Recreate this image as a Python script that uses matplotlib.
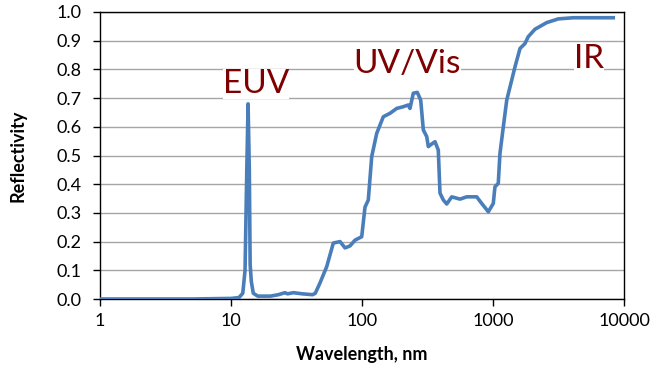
import matplotlib
matplotlib.use("Agg")
import matplotlib.pyplot as plt
from matplotlib.ticker import FixedLocator, NullLocator

plt.rcParams['font.family'] = ['Lato', 'DejaVu Sans']

wavelength = [1, 5, 10, 11.5, 12.3, 12.8, 13.2, 13.5, 13.8, 14.0, 14.3, 14.8, 16, 20, 23,
              25.8, 27, 30, 35, 42, 44, 47.8, 53.8, 60.4, 68.0, 74.2, 81.0, 88.4, 99.5,
              105.4, 111.7, 118.6, 129.5, 145.4, 163.6, 184.0, 206.6, 225.5, 232.4, 246.4,
              264.3, 280.6, 293.9, 311.9, 320.8, 340.4, 360.8, 382.2, 393.9, 417.7, 443.4,
              484.2, 559.9, 629.8, 751, 820, 921, 1005, 1035, 1097, 1130, 1199, 1273, 1390,
              1472, 1608, 1754, 1858, 2092, 2569, 3150, 4100, 8280]
reflectivity = [0.0, 0.0, 0.002, 0.005, 0.02, 0.1, 0.45, 0.68, 0.45, 0.12, 0.06, 0.02, 0.01,
                0.01, 0.015, 0.022, 0.018, 0.022, 0.018, 0.015, 0.02, 0.056, 0.113, 0.195,
                0.2, 0.178, 0.185, 0.205, 0.217, 0.32, 0.345, 0.496, 0.577, 0.635, 0.647,
                0.664, 0.67, 0.676, 0.664, 0.717, 0.72, 0.693, 0.589, 0.566, 0.531, 0.54,
                0.548, 0.519, 0.369, 0.345, 0.331, 0.356, 0.348, 0.356, 0.356, 0.333, 0.304,
                0.333, 0.391, 0.403, 0.507, 0.6, 0.693, 0.763, 0.809, 0.873, 0.89, 0.914,
                0.94, 0.963, 0.976, 0.98, 0.98]

x_ticks = [1, 10, 100, 1000, 10000]
x_tick_labels = ['1', '10', '100', '1000', '10000']
y_ticks = [0.0, 0.1, 0.2, 0.3, 0.4, 0.5, 0.6, 0.7, 0.8, 0.9, 1.0]

region_labels = ['EUV', 'UV/Vis', 'IR']
region_x = [15.5, 222, 5410]
region_y = [0.718, 0.787, 0.805]

fig = plt.figure(figsize=(6.58, 3.85), dpi=100)
ax = fig.add_axes([100/658, 86/385, 524/658, 287/385])

ax.plot(wavelength, reflectivity, color='#4a7ebb', lw=2.6, solid_joinstyle='round', zorder=3)

ax.set_xscale('log')
ax.set_xlim(1, 10000)
ax.set_ylim(0, 1.0)
ax.xaxis.set_major_locator(FixedLocator(x_ticks))
ax.xaxis.set_minor_locator(NullLocator())
ax.set_xticks(x_ticks)
ax.set_xticklabels(x_tick_labels)
ax.set_yticks(y_ticks)
ax.set_yticklabels([f'{v:.1f}' for v in y_ticks])

ax.yaxis.grid(True, color='#a6a6a6', lw=1.0)
ax.set_axisbelow(True)
for s in ax.spines.values():
    s.set_color('#000000')
    s.set_linewidth(1.0)

ax.tick_params(axis='both', direction='out', length=5, width=1, labelsize=13, colors='#000000')
ax.tick_params(axis='y', pad=8)
ax.tick_params(axis='x', pad=5)

ax.set_xlabel('Wavelength, nm', fontsize=13, fontweight='bold', labelpad=12)
ax.set_ylabel('Reflectivity', fontsize=13, fontweight='bold', labelpad=22)

for lab, xx, yy in zip(region_labels, region_x, region_y):
    ax.text(xx, yy, lab, color='#7f0000', fontsize=24, ha='center', va='baseline', zorder=4,
            bbox=dict(facecolor='white', edgecolor='none', pad=0))

fig.savefig('out.png', dpi=100)
